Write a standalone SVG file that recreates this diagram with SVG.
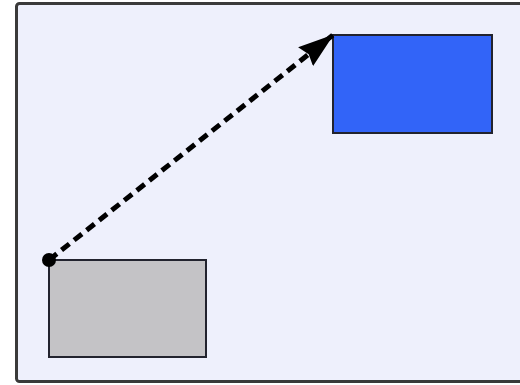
<svg xmlns="http://www.w3.org/2000/svg" width="520" height="385" viewBox="0 0 520 385">
<style>
.frame{fill:#eef0fc;stroke:#3a3a3a;stroke-width:3}
.node{stroke:#22232e;stroke-width:2}
.conn{fill:none;stroke:#000;stroke-width:5;stroke-dasharray:10 6}
</style>
<defs>
<marker id="ah" markerWidth="36" markerHeight="24" refX="35" refY="12" orient="auto" markerUnits="userSpaceOnUse">
<path d="M0,0 L36,12 L0,24 L4,12 Z" fill="#000"/>
</marker>
</defs>
<rect class="frame" x="16.5" y="3.5" width="520" height="378" rx="3"/>
<g id="node-blue"><rect class="node" x="333" y="35" width="159" height="98" fill="#3264f8"/></g>
<g id="node-gray"><rect class="node" x="49" y="260" width="157" height="97" fill="#c4c3c6"/></g>
<g id="connectors">
<path class="conn" d="M49,260 L333,35" marker-end="url(#ah)"/>
<circle cx="49" cy="260" r="7" fill="#000"/>
</g>
</svg>
